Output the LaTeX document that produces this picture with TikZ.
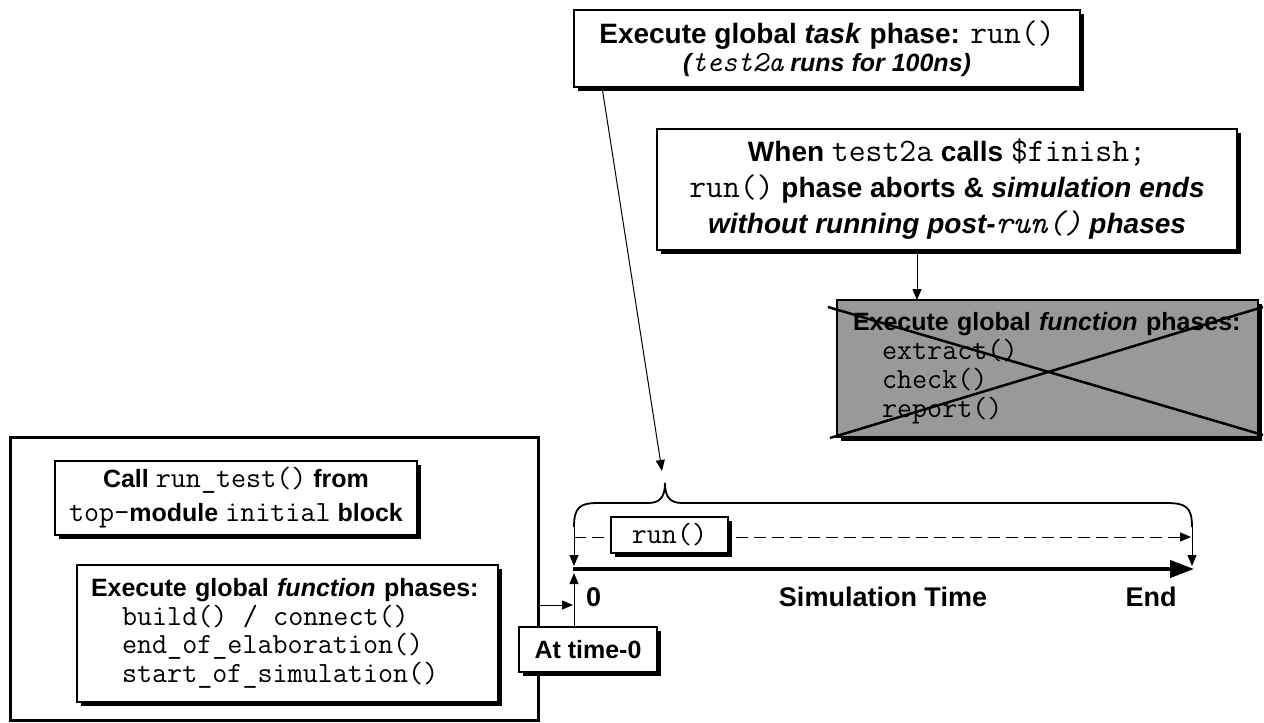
\documentclass[tikz,border=0pt]{standalone}
\usepackage{fontspec}
\setmainfont{Liberation Sans}
\setmonofont[Scale=1.17]{Latin Modern Mono}
\usetikzlibrary{arrows.meta,shadows,calc}
\newcommand\mono[1]{{\ttfamily\mdseries #1}}
\newcommand\msp{\hspace*{0.525em}}
\definecolor{phasegray}{RGB}{153,153,153}

\begin{document}
\begin{tikzpicture}[x=1pt,y=-1pt,
  every node/.style={outer sep=0pt, inner sep=0pt},
  card/.style={draw=black, line width=1.2pt, fill=white,
    drop shadow={shadow xshift=4pt, shadow yshift=-4pt, fill=black, opacity=1}},
  frame/.style={draw=black, line width=3pt},
  lab/.style={font=\fontsize{27}{30}\selectfont\bfseries},
  thinarrow/.style={draw=black, line width=1pt, -{Triangle[length=11pt,width=9pt]}},
  timearrow/.style={draw=black, line width=4pt, -{Triangle[length=24pt,width=17pt]}},
  cross/.style={draw=black, line width=2.5pt}
]
\useasboundingbox (0,0) rectangle (1264,723);

% outer frame holding the time-0 set-up
\node[frame, minimum width=528pt, minimum height=283pt] (outer) at (274,578.5) {};

\node[card, minimum width=362pt, minimum height=74pt, align=center,
  font=\fontsize{25}{34}\selectfont\bfseries] (callbox) at (236,498)
  {Call \mono{run\_test()} from\\ \mono{top-}module \mono{initial} block};

\node[card, minimum width=421pt, minimum height=137pt, text width=393pt, align=left,
  font=\fontsize{25}{28.5}\selectfont\bfseries] (funcbox) at (287.5,633.5)
  {Execute global \textit{function} phases:\\
   \hspace*{31pt}\mono{build()\msp/\msp{}connect()}\\
   \hspace*{31pt}\mono{end\_of\_elaboration()}\\
   \hspace*{31pt}\mono{start\_of\_simulation()}};

% task phase and finish notes
\node[card, minimum width=506pt, minimum height=77pt, align=center,
  font=\fontsize{28}{28}\selectfont\bfseries] (taskbox) at (827,48.5)
  {Execute global \textit{task} phase: \mono{run()}\\
   {\fontsize{25}{28}\selectfont\itshape (\mono{test2a} runs for 100ns)}};

\node[card, minimum width=580pt, minimum height=121pt, align=center,
  font=\fontsize{28}{36}\selectfont\bfseries] (finbox) at (947,189.5)
  {When \mono{test2a} calls \mono{\$finish;}\\
   \mono{run()} phase aborts \& \textit{simulation ends}\\
   \textit{without running post-\mono{run()} phases}};

\node[card, fill=phasegray, minimum width=421pt, minimum height=137pt, text width=389pt, align=left,
  font=\fontsize{25}{29}\selectfont\bfseries] (grayphases) at (1047.5,368.5)
  {Execute global \textit{function} phases:\\
   \hspace*{29pt}\mono{extract()}\\
   \hspace*{29pt}\mono{check()}\\
   \hspace*{29pt}\mono{report()}};

% crossing out the skipped phases
\draw[cross] ($(grayphases.north west)+(-9,7)$) -- ($(grayphases.south east)+(5,-2)$);
\draw[cross] ($(grayphases.south west)+(-7,1)$) -- ($(grayphases.north east)+(5,7)$);

\coordinate (gx) at (917,0);
\draw[thinarrow] (finbox.south -| gx) -- (grayphases.north -| gx);

% time line
\coordinate (t0) at (573,569);
\coordinate (tend) at (1194,569);
\coordinate (t0dn) at (574,566);
\coordinate (t0up) at (574,573);
\coordinate (tenddn) at (1192,566);
\coordinate (bl) at (574,527);
\coordinate (br) at (1192,527);
\coordinate (tip) at (665,483);
\coordinate (tipin) at (662,471);
\coordinate (dl) at (574,537);
\coordinate (dr) at (1191,537);
\coordinate (ylink) at (0,605);

\draw[timearrow] (t0) -- (tend);

% brace over the run phase
\draw[line width=1.8pt] (bl) .. controls (574,507) and (580,503) .. (598,503)
  -- (648,503) .. controls (660,503) and (665,497) .. (tip)
  .. controls (665,497) and (670,503) .. (682,503)
  -- (1166,503) .. controls (1186,503) and (1192,507) .. (br);
\draw[thinarrow] (bl) -- (t0dn);
\draw[thinarrow] (br) -- (tenddn);
\draw[thinarrow, dash pattern=on 12pt off 6pt] (dl) -- (dr);

\node[card, minimum width=117pt, minimum height=36pt,
  font=\fontsize{25}{28}\selectfont\ttfamily] (runbox) at (669.5,535) {run()};

\draw[thinarrow] ($(taskbox.south west)+(28,0)$) -- (tipin);

\node[lab, anchor=west] (zero) at (586,597) {0};
\node[lab] (simtime) at (883,597) {Simulation Time};
\node[lab] (endlab) at (1151,597) {End};

% time-0 link
\draw[thinarrow] (outer.east |- ylink) -- (t0 |- ylink);
\node[card, minimum width=138pt, minimum height=45pt,
  font=\fontsize{25}{28}\selectfont\bfseries] (timebox) at (588,649.5) {At time-0};
\draw[thinarrow] (timebox.north -| t0up) -- (t0up);

\end{tikzpicture}
\end{document}
